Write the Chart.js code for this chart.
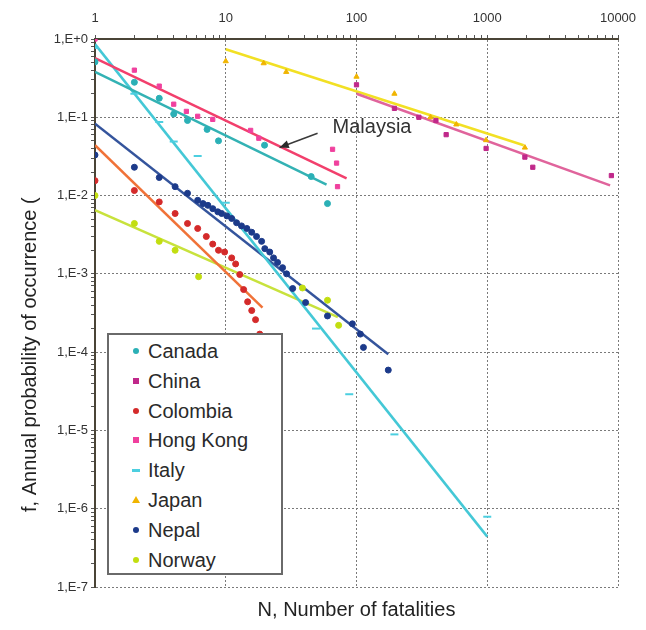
<!DOCTYPE html>
<html>
<head>
<meta charset="utf-8">
<script src="https://cdn.jsdelivr.net/npm/chart.js@4.4.1/dist/chart.umd.min.js"></script>
<style>
  body { margin: 0; background: #fff; }
  #wrap { position: relative; width: 646px; height: 630px; }
  #legend {
    position: absolute; left: 107px; top: 333px; width: 172px; height: 238px;
    border: 2px solid #6a6a6a; background: #fff;
    font: 20px "Liberation Sans", Arial, sans-serif; color: #2a2a2a;
  }
  #legend .row { position: absolute; left: 0; width: 100%; height: 30px; }
  #legend .m { position: absolute; left: 24px; top: 12px; width: 6px; height: 6px; }
  #legend .t { position: absolute; left: 39px; top: 0; line-height: 30px; white-space: nowrap; }
</style>
</head>
<body>
<div id="wrap">
  <canvas id="fn" width="646" height="630"></canvas>
  <div id="legend"></div>
</div>
<script>
// F-N data (N = fatalities, f = annual probability)
const countries = ['Canada', 'China', 'Colombia', 'Hong Kong', 'Italy', 'Japan', 'Nepal', 'Norway'];

const canadaN = [1, 2, 3.1, 4, 5.1, 7.2, 8.8, 19.8, 45, 60];
const canadaF = [0.51, 0.28, 0.175, 0.11, 0.091, 0.07, 0.05, 0.044, 0.0175, 0.0079];
const canadaLineN = [1, 59];
const canadaLineF = [0.38, 0.0138];

const chinaN = [100, 195, 300, 405, 485, 980, 1940, 2230, 8900];
const chinaF = [0.26, 0.13, 0.10, 0.091, 0.060, 0.040, 0.031, 0.023, 0.018];
const chinaLineN = [100, 8700];
const chinaLineF = [0.20, 0.0135];

const colombiaN = [1, 2, 3.1, 4.1, 5.1, 6.1, 7.1, 7.95, 8.8, 9.8, 11.1, 11.9, 12.8, 13.7, 14.7, 15.8, 16.9, 18.2];
const colombiaF = [0.0155, 0.0116, 0.0083, 0.0059, 0.0044, 0.0038, 0.003, 0.0024, 0.002, 0.0019, 0.0016, 0.00134, 0.00098, 0.00063, 0.00044, 0.00034, 0.00026, 0.00017];
const colombiaLineN = [1, 19.1];
const colombiaLineF = [0.044, 0.00037];

const hongKongN = [1, 2, 3.1, 4, 5, 6.1, 7.95, 15.5, 17.9, 65.6, 70.4, 71.6];
const hongKongF = [1.0, 0.40, 0.25, 0.147, 0.119, 0.103, 0.094, 0.068, 0.054, 0.039, 0.026, 0.013];
const hongKongLineN = [1, 84];
const hongKongLineF = [0.57, 0.0166];

const italyN = [1, 2, 3.1, 4, 6.1, 10, 49, 88, 195, 1000];
const italyF = [0.77, 0.2, 0.087, 0.049, 0.032, 0.0081, 0.0002, 0.000029, 0.0000089, 0.00000079];
const italyLineN = [1, 1000];
const italyLineF = [0.86, 0.00000044];

const japanN = [10, 19.5, 29, 100, 195, 368, 580, 980, 1940];
const japanF = [0.52, 0.49, 0.38, 0.33, 0.20, 0.10, 0.081, 0.051, 0.041];
const japanLineN = [10, 1900];
const japanLineF = [0.74, 0.044];

const nepalN = [1, 2, 3.1, 4.1, 5.1, 6.1, 6.7, 7.3, 7.96, 8.7, 9.3, 10.2, 11.1, 12.1, 13.2, 14.5, 15.8, 17.2, 18.8, 19.9, 21.7, 23.2, 24.9, 27.2, 29.2, 32.5, 40.8, 60, 93, 107, 113, 175];
const nepalF = [0.033, 0.023, 0.017, 0.013, 0.0107, 0.0087, 0.0079, 0.0075, 0.0068, 0.0062, 0.0059, 0.0055, 0.0051, 0.0045, 0.0041, 0.0038, 0.0034, 0.003, 0.0026, 0.0021, 0.0019, 0.0016, 0.0014, 0.0012, 0.001, 0.00065, 0.00043, 0.00029, 0.00023, 0.00017, 0.000115, 0.000059];
const nepalLineN = [1, 175];
const nepalLineF = [0.083, 0.000094];

const norwayN = [1, 2, 3.1, 4.1, 6.2, 38.6, 60, 73];
const norwayF = [0.01, 0.0044, 0.0026, 0.002, 0.00092, 0.00066, 0.00046, 0.00022];
const norwayLineN = [1, 72];
const norwayLineF = [0.0065, 0.00028];

const xTickLabels = ['1', '10', '100', '1000', '10000'];
const yTickLabels = ['1,E+0', '1,E-1', '1,E-2', '1,E-3', '1,E-4', '1,E-5', '1,E-6', '1,E-7'];

// Malaysia call-out, in data units
const malaysiaText = 'Malaysia';
const malaysiaTextAt = [65.6, 0.0745];
const malaysiaArrowFrom = [50.4, 0.0624];
const malaysiaArrowTo = [25.8, 0.0412];

const FONT = '"Liberation Sans", Arial, sans-serif';

const series = [
  { n: canadaN, f: canadaF, ln: canadaLineN, lf: canadaLineF, pt: '#2bb0b6', line: '#33b2b4', style: 'circle' },
  { n: chinaN, f: chinaF, ln: chinaLineN, lf: chinaLineF, pt: '#c0288a', line: '#e0649c', style: 'rect' },
  { n: colombiaN, f: colombiaF, ln: colombiaLineN, lf: colombiaLineF, pt: '#d42a2a', line: '#f07238', style: 'circle' },
  { n: hongKongN, f: hongKongF, ln: hongKongLineN, lf: hongKongLineF, pt: '#f0409e', line: '#f23f6c', style: 'rect' },
  { n: italyN, f: italyF, ln: italyLineN, lf: italyLineF, pt: '#4ccfe0', line: '#44c8d6', style: 'line' },
  { n: japanN, f: japanF, ln: japanLineN, lf: japanLineF, pt: '#f0b400', line: '#f2e024', style: 'triangle' },
  { n: nepalN, f: nepalF, ln: nepalLineN, lf: nepalLineF, pt: '#1c3a8a', line: '#34549c', style: 'circle' },
  { n: norwayN, f: norwayF, ln: norwayLineN, lf: norwayLineF, pt: '#c2de10', line: '#c8e23c', style: 'circle' }
];

const pairs = (xs, ys) => xs.map((x, i) => ({ x: x, y: ys[i] }));

const datasets = [];
series.forEach((s, i) => {
  datasets.push({
    type: 'scatter', label: countries[i], data: pairs(s.n, s.f), order: 0,
    pointStyle: s.style, pointRadius: s.style === 'line' ? 4 : 3,
    backgroundColor: s.pt, borderColor: s.pt, pointBorderWidth: s.style === 'line' ? 2 : 1
  });
  datasets.push({
    type: 'line', label: countries[i] + ' fit', data: pairs(s.ln, s.lf), order: 1,
    borderColor: s.line, borderWidth: 2.5, pointRadius: 0, fill: false
  });
});

function logTicks(lo, hi) {
  const out = [];
  for (let e = lo; e < hi; e++) {
    for (let m = 1; m < 10; m++) out.push({ value: m * Math.pow(10, e) });
  }
  out.push({ value: Math.pow(10, hi) });
  return out;
}
function isDecade(v) {
  const l = Math.log10(v);
  return Math.abs(l - Math.round(l)) < 1e-6;
}

const callout = {
  id: 'callout',
  afterDatasetsDraw(chart) {
    const { ctx, scales: { x, y } } = chart;
    const x0 = x.getPixelForValue(malaysiaArrowFrom[0]), y0 = y.getPixelForValue(malaysiaArrowFrom[1]);
    const x1 = x.getPixelForValue(malaysiaArrowTo[0]), y1 = y.getPixelForValue(malaysiaArrowTo[1]);
    ctx.save();
    ctx.strokeStyle = '#3a3a3a';
    ctx.fillStyle = '#2a2a2a';
    ctx.lineWidth = 1.5;
    ctx.beginPath();
    ctx.moveTo(x0, y0);
    ctx.lineTo(x1, y1);
    ctx.stroke();
    const a = Math.atan2(y1 - y0, x1 - x0);
    ctx.beginPath();
    ctx.moveTo(x1, y1);
    ctx.lineTo(x1 - 10 * Math.cos(a - 0.4), y1 - 10 * Math.sin(a - 0.4));
    ctx.lineTo(x1 - 10 * Math.cos(a + 0.4), y1 - 10 * Math.sin(a + 0.4));
    ctx.closePath();
    ctx.fill();
    ctx.font = '20px ' + FONT;
    ctx.fillStyle = '#333';
    ctx.textBaseline = 'middle';
    ctx.fillText(malaysiaText, x.getPixelForValue(malaysiaTextAt[0]), y.getPixelForValue(malaysiaTextAt[1]));
    ctx.restore();
  }
};

const gridStyle = {
  color: (c) => (c.tick && isDecade(c.tick.value)) ? '#7a7a7a' : 'rgba(0,0,0,0)',
  lineWidth: 1,
  tickColor: '#555',
  tickLength: 4
};

new Chart(document.getElementById('fn'), {
  data: { datasets: datasets },
  plugins: [callout],
  options: {
    responsive: false,
    animation: false,
    layout: { padding: { left: 0, top: 0, right: 28, bottom: 0 } },
    plugins: { legend: { display: false }, tooltip: { enabled: false } },
    scales: {
      x: {
        type: 'logarithmic', position: 'top', min: 1, max: 10000,
        afterBuildTicks: (s) => { s.ticks = logTicks(0, 4); },
        afterFit: (s) => { s.height = 39; },
        ticks: {
          autoSkip: false, maxRotation: 0, padding: 9, color: '#333',
          font: { family: FONT, size: 13 },
          callback: (v) => isDecade(v) ? xTickLabels[Math.round(Math.log10(v))] : ''
        },
        grid: gridStyle,
        border: { display: true, color: '#4a4436', width: 2, dash: [2, 2] }
      },
      x2: {
        type: 'logarithmic', position: 'bottom', min: 1, max: 10000,
        afterFit: (s) => { s.height = 43; },
        ticks: { display: false },
        grid: { display: false, drawTicks: false },
        border: { display: false },
        title: {
          display: true, text: 'N, Number of fatalities', color: '#222',
          font: { family: FONT, size: 20 }, padding: { top: 0, bottom: 8 }
        }
      },
      y: {
        type: 'logarithmic', position: 'left', min: 1e-7, max: 1,
        afterBuildTicks: (s) => { s.ticks = logTicks(-7, 0); },
        afterFit: (s) => { s.width = 95; },
        ticks: {
          autoSkip: false, padding: 3, color: '#333',
          font: { family: FONT, size: 13 },
          callback: (v) => isDecade(v) ? yTickLabels[-Math.round(Math.log10(v))] : ''
        },
        grid: gridStyle,
        border: { display: true, color: '#4a4436', width: 2, dash: [2, 2] },
        title: {
          display: true, text: 'f, Annual probability of occurrence (               ', color: '#222',
          font: { family: FONT, size: 20 }, padding: { top: 18, bottom: 0 }
        }
      }
    }
  }
});

// legend box, built from the same series
const legend = document.getElementById('legend');
series.forEach((s, i) => {
  const row = document.createElement('div');
  row.className = 'row';
  row.style.top = (1 + i * 29.8) + 'px';
  const m = document.createElement('span');
  m.className = 'm';
  m.style.background = s.pt;
  if (s.style === 'circle') m.style.borderRadius = '50%';
  if (s.style === 'line') { m.style.height = '3px'; m.style.top = '14px'; m.style.width = '8px'; m.style.left = '23px'; }
  if (s.style === 'triangle') {
    m.style.background = 'none'; m.style.width = '0'; m.style.height = '0';
    m.style.borderLeft = '4px solid transparent'; m.style.borderRight = '4px solid transparent';
    m.style.borderBottom = '7px solid ' + s.pt; m.style.top = '11px'; m.style.left = '23px';
  }
  const t = document.createElement('span');
  t.className = 't';
  t.textContent = countries[i];
  row.appendChild(m);
  row.appendChild(t);
  legend.appendChild(row);
});
</script>
</body>
</html>
